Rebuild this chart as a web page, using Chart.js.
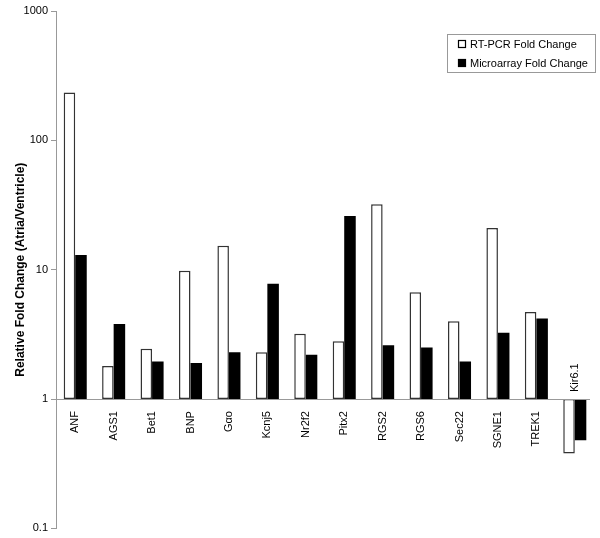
<!DOCTYPE html>
<html lang="en">
<head>
  <meta charset="UTF-8" />
  <title>Relative Fold Change</title>
  <script src="https://cdn.jsdelivr.net/npm/chart.js"></script>
  <style>
    html, body { margin: 0; padding: 0; background: #fff; }
    #wrap { width: 600px; height: 538px; position: relative; }
  </style>
</head>
<body>
  <div id="wrap"><canvas id="chart"></canvas></div>
  <script>
    // Datos
    const genes = ['ANF', 'AGS1', 'Bet1', 'BNP', 'G\u03b1o', 'Kcnj5', 'Nr2f2', 'Pitx2', 'RGS2', 'RGS6', 'Sec22', 'SGNE1', 'TREK1', 'Kir6.1'];
    const rtpcr = [234, 1.8, 2.45, 9.8, 15.3, 2.3, 3.2, 2.8, 32, 6.7, 4.0, 21, 4.7, 0.38];
    const microarray = [13, 3.8, 1.95, 1.9, 2.3, 7.8, 2.2, 26, 2.6, 2.5, 1.95, 3.25, 4.2, 0.48];
    const yTicks = [0.1, 1, 10, 100, 1000];
    const baseline = 1;

    const FONT = '"Liberation Sans", Arial, sans-serif';

    // etiquetas de categoría pegadas a la línea de 1
    const labelsAtOne = {
      id: 'labelsAtOne',
      afterDatasetsDraw(chart) {
        const { ctx, chartArea, scales } = chart;
        const y1 = scales.y.getPixelForValue(baseline);
        ctx.save();
        ctx.strokeStyle = '#999';
        ctx.lineWidth = 1;
        ctx.beginPath();
        ctx.moveTo(chartArea.left, Math.round(y1) + 0.5);
        ctx.lineTo(chartArea.right - 4, Math.round(y1) + 0.5);
        ctx.stroke();

        ctx.fillStyle = '#000';
        ctx.font = '11px ' + FONT;
        ctx.textBaseline = 'middle';
        genes.forEach((g, i) => {
          const x = scales.x.getPixelForValue(i);
          const down = rtpcr[i] < baseline;
          ctx.save();
          ctx.translate(x, down ? y1 - 7 : y1 + 12);
          ctx.rotate(-Math.PI / 2);
          ctx.textAlign = down ? 'left' : 'right';
          ctx.fillText(g, 0, 0);
          ctx.restore();
        });

        // leyenda
        const lx = 447, ly = 34, lw = 148, lh = 38;
        ctx.strokeStyle = '#999';
        ctx.strokeRect(lx + 0.5, ly + 0.5, lw, lh);
        const items = [
          { text: 'RT-PCR Fold Change', fill: '#fff' },
          { text: 'Microarray Fold Change', fill: '#000' }
        ];
        ctx.textAlign = 'left';
        items.forEach((it, k) => {
          const cy = ly + 10 + k * 19;
          ctx.fillStyle = it.fill;
          ctx.fillRect(458, cy - 4, 8, 8);
          ctx.strokeStyle = '#000';
          ctx.lineWidth = 1.2;
          ctx.strokeRect(458.5, cy - 3.5, 7, 7);
          ctx.fillStyle = '#000';
          ctx.fillText(it.text, 470, cy + 0.5);
        });
        ctx.restore();
      }
    };

    new Chart(document.getElementById('chart'), {
      type: 'bar',
      data: {
        labels: genes,
        datasets: [
          {
            label: 'RT-PCR Fold Change',
            data: rtpcr.map(v => [baseline, v]),
            backgroundColor: '#fff',
            borderColor: '#333',
            borderWidth: 1.5,
            borderSkipped: false
          },
          {
            label: 'Microarray Fold Change',
            data: microarray.map(v => [baseline, v]),
            backgroundColor: '#000',
            borderWidth: 0
          }
        ]
      },
      options: {
        responsive: true,
        maintainAspectRatio: false,
        animation: false,
        datasets: { bar: { categoryPercentage: 0.6, barPercentage: 1.0 } },
        layout: { padding: { top: 11, bottom: 7, right: 6, left: 0 } },
        plugins: {
          legend: { display: false },
          tooltip: { enabled: false }
        },
        scales: {
          x: { display: false },
          y: {
            type: 'logarithmic',
            min: 0.1,
            max: 1000,
            afterBuildTicks: s => { s.ticks = yTicks.map(v => ({ value: v })); },
            afterFit: s => { s.width = 56; },
            border: { color: '#999', width: 1 },
            grid: { drawOnChartArea: false, drawTicks: true, tickLength: 5, color: '#999' },
            ticks: {
              color: '#000',
              padding: 3,
              font: { family: FONT, size: 11 },
              callback: v => String(v)
            },
            title: {
              display: true,
              text: 'Relative Fold Change (Atria/Ventricle)',
              color: '#000',
              padding: { top: 13, bottom: 0 },
              font: { family: FONT, size: 12, weight: 'bold' }
            }
          }
        }
      },
      plugins: [labelsAtOne]
    });
  </script>
</body>
</html>
